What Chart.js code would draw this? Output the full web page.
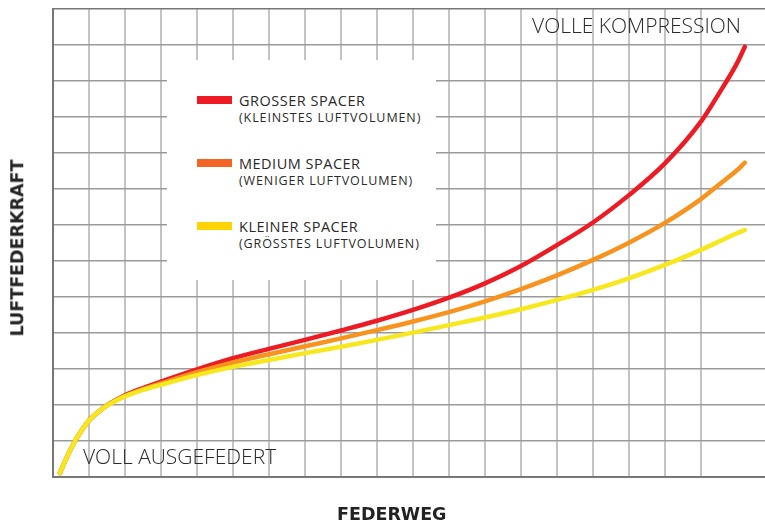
<!DOCTYPE html>
<html>
<head>
<meta charset="utf-8">
<script src="https://cdn.jsdelivr.net/npm/chart.js@4"></script>
<style>
  html, body { margin: 0; padding: 0; background: #fff; }
  #wrap { position: relative; width: 765px; height: 521px; overflow: hidden; font-family: 'Open Sans', sans-serif; color: #2a2a2a; }
  #chart { position: absolute; left: 0; top: 0; }
  .lbl { position: absolute; white-space: nowrap; font-weight: 300; font-size: 21px; line-height: 1; }
  .titel { position: absolute; white-space: nowrap; font-family: 'DejaVu Sans', sans-serif; font-weight: 700; font-size: 17.5px; color: #222; line-height: 1; }
  #legende { position: absolute; left: 167px; top: 60px; width: 269px; height: 220px; background: #fff; }
  .eintrag { position: absolute; left: 30px; }
  .farbe { position: absolute; left: 0; top: 1px; width: 35px; height: 8px; }
  .name { position: absolute; left: 42px; top: -4px; font-size: 14.5px; letter-spacing: 0.5px; white-space: nowrap; }
  .sub { position: absolute; left: 42px; top: 14px; font-size: 12.5px; letter-spacing: 0.9px; white-space: nowrap; }
</style>
</head>
<body>
<div id="wrap">
  <canvas id="chart" width="765" height="521"></canvas>
  <div id="legende"></div>
  <div class="lbl" style="right:24px; top:15px;">VOLLE KOMPRESSION</div>
  <div class="lbl" style="left:83px; top:446px;">VOLL AUSGEFEDERT</div>
  <div class="titel" style="left:337px; top:506px;">FEDERWEG</div>
  <div class="titel" style="left:18px; top:248px; transform: translate(-50%,-50%) rotate(-90deg);">LUFTFEDERKRAFT</div>
</div>
<script>
// Federweg und Luftfederkraft in Rasterfeldern
const federweg = [0.19, 0.4, 0.6, 0.8, 1, 1.25, 1.5, 1.75, 2, 2.5, 3, 4, 5, 6, 7, 8, 9, 10, 11, 12, 13, 14, 15, 16, 17, 18, 18.5, 19, 19.22];

const kraftGross  = [0.11, 0.58, 0.98, 1.30, 1.57, 1.80, 1.99, 2.14, 2.27, 2.47, 2.65, 2.99, 3.30, 3.56, 3.81, 4.07, 4.34, 4.64, 4.98, 5.38, 5.86, 6.44, 7.07, 7.83, 8.71, 9.87, 10.65, 11.49, 11.95];
const kraftMedium = [0.11, 0.58, 0.98, 1.30, 1.57, 1.80, 1.99, 2.13, 2.25, 2.44, 2.60, 2.91, 3.18, 3.41, 3.63, 3.85, 4.08, 4.32, 4.58, 4.88, 5.22, 5.60, 6.03, 6.51, 7.06, 7.72, 8.12, 8.52, 8.73];
const kraftKlein  = [0.11, 0.58, 0.98, 1.30, 1.57, 1.80, 1.98, 2.12, 2.24, 2.42, 2.56, 2.83, 3.06, 3.25, 3.44, 3.62, 3.81, 4.01, 4.22, 4.43, 4.66, 4.92, 5.20, 5.52, 5.89, 6.31, 6.54, 6.77, 6.86];

const legendeNamen  = ['GROSSER SPACER', 'MEDIUM SPACER', 'KLEINER SPACER'];
const legendeSub    = ['(KLEINSTES LUFTVOLUMEN)', '(WENIGER LUFTVOLUMEN)', '(GRÖSSTES LUFTVOLUMEN)'];
const legendeFarben = ['#ed1c24', '#f26522', '#ffd400'];

const xMax = 19.78;
const yMax = 13;

const toPts = arr => arr.map((v, i) => ({ x: federweg[i], y: v }));

// Legende als weißer Kasten über dem Raster
const leg = document.getElementById('legende');
legendeNamen.forEach((n, i) => {
  const d = document.createElement('div');
  d.className = 'eintrag';
  d.style.top = (35 + i * 63) + 'px';
  d.innerHTML = `<div class="farbe" style="background:${legendeFarben[i]}"></div>
    <div class="name">${n}</div><div class="sub">${legendeSub[i]}</div>`;
  leg.appendChild(d);
});

const linie = (data, farbe, order) => ({
  data: toPts(data),
  borderColor: farbe,
  borderWidth: 4.5,
  borderCapStyle: 'round',
  pointRadius: 0,
  cubicInterpolationMode: 'monotone',
  fill: false,
  order: order
});

new Chart(document.getElementById('chart').getContext('2d'), {
  type: 'line',
  data: {
    datasets: [
      linie(kraftKlein,  '#f7e81e', 1),
      linie(kraftMedium, '#f7931e', 2),
      linie(kraftGross,  '#ed1c24', 3)
    ]
  },
  options: {
    responsive: false,
    animation: false,
    layout: { padding: { left: 53, top: 9, right: 0, bottom: 44 } },
    plugins: { legend: { display: false }, tooltip: { enabled: false } },
    scales: {
      x: {
        type: 'linear', min: 0, max: xMax,
        afterBuildTicks: s => { s.ticks = s.ticks.filter(t => Number.isInteger(t.value)); },
        afterFit: s => { s.height = 0; },
        ticks: { display: false, stepSize: 1 },
        grid: { color: c => c.index === 0 ? '#777' : '#c4c4c4', lineWidth: 2, drawTicks: false },
        border: { display: true, color: '#777', width: 2 }
      },
      y: {
        min: 0, max: yMax,
        afterFit: s => { s.width = 0; },
        ticks: { display: false, stepSize: 1 },
        grid: { color: c => (c.index === 0 || c.tick.value === yMax) ? '#777' : '#9a9a9a', lineWidth: 1.5, drawTicks: false },
        border: { display: true, color: '#777', width: 2 }
      }
    }
  }
});
</script>
</body>
</html>
